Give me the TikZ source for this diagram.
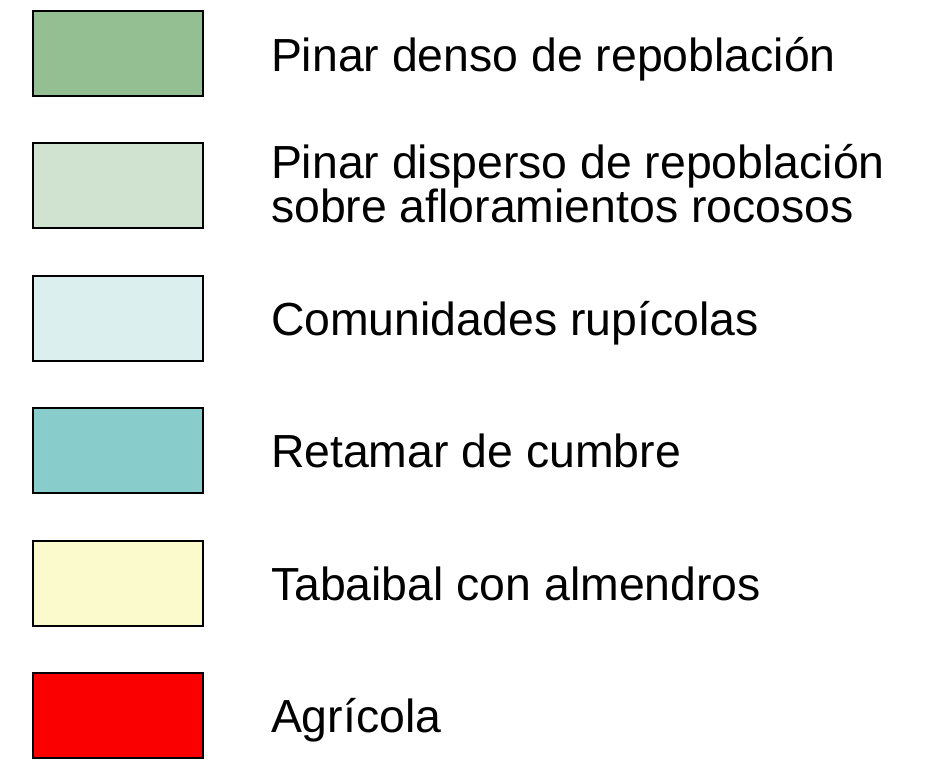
\documentclass[tikz,border=0pt]{standalone}
\usepackage{fontspec}
\setmainfont{Liberation Sans}
\definecolor{cA}{HTML}{93BF93}
\definecolor{cB}{HTML}{D0E2D0}
\definecolor{cC}{HTML}{DCEFEF}
\definecolor{cD}{HTML}{88CCCC}
\definecolor{cE}{HTML}{FAFACD}
\definecolor{cF}{HTML}{FA0000}
\begin{document}
\begin{tikzpicture}[x=1pt,y=-1pt,
  swatch/.style={draw=black, line width=2pt, minimum width=170pt, minimum height=85pt, inner sep=0pt, outer sep=0pt, anchor=north west},
  label/.style={anchor=base west, inner sep=0pt, outer sep=0pt, font=\fontsize{46.4}{42}\selectfont, align=left}]
\useasboundingbox (0,0) rectangle (929,767);
\node[swatch, fill=cA] (s1) at (33,11) {};
\node[swatch, fill=cB] (s2) at (33,143.5) {};
\node[swatch, fill=cC] (s3) at (33,276) {};
\node[swatch, fill=cD] (s4) at (33,408) {};
\node[swatch, fill=cE] (s5) at (33,540.5) {};
\node[swatch, fill=cF] (s6) at (33,673) {};
\node[label] (t1) at (271,71.5) {Pinar denso de repoblación};
\node[label] (t2) at (271,223) {Pinar disperso de repoblación\\sobre afloramientos rocosos};
\node[label] (t3) at (271,335) {Comunidades rupícolas};
\node[label] (t4) at (271,467.5) {Retamar de cumbre};
\node[label] (t5) at (271,600) {Tabaibal con almendros};
\node[label] (t6) at (271,732.5) {Agrícola};
\end{tikzpicture}
\end{document}
